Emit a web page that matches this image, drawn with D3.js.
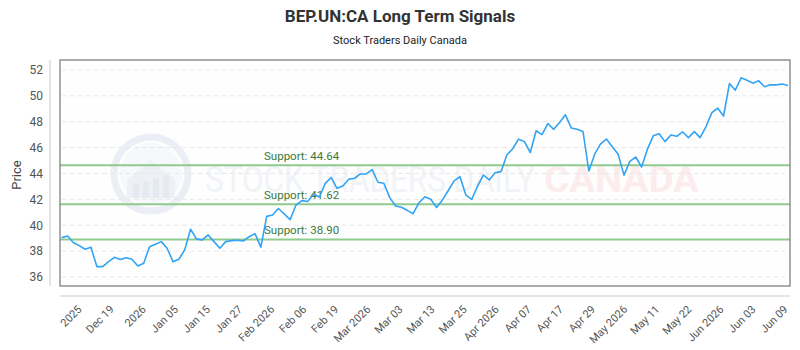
<!DOCTYPE html>
<html>
<head>
<meta charset="utf-8">
<script src="https://cdn.jsdelivr.net/npm/d3@7/dist/d3.min.js"></script>
<style>
  body { margin: 0; background: #fff; }
  svg { font-family: Roboto, "Open Sans", sans-serif; }
</style>
</head>
<body>
<svg id="chart" width="800" height="350"></svg>
<script>
// price series, one value per trading day
var prices = [
  39.04, 39.17, 38.65, 38.42, 38.14, 38.30, 36.80, 36.80, 37.18, 37.52,
  37.34, 37.49, 37.37, 36.85, 37.06, 38.34, 38.53, 38.73, 38.22, 37.18,
  37.37, 38.09, 39.69, 38.94, 38.86, 39.25, 38.73, 38.22, 38.73, 38.81,
  38.84, 38.78, 39.11, 39.35, 38.30, 40.68, 40.79, 41.29, 40.88, 40.42,
  41.56, 41.90, 41.83, 42.39, 42.18, 43.23, 43.69, 42.85, 43.03, 43.55,
  43.63, 43.96, 43.96, 44.29, 43.32, 43.24, 42.13, 41.49, 41.39, 41.15,
  40.89, 41.74, 42.20, 42.00, 41.37, 41.94, 42.68, 43.42, 43.75, 42.34,
  41.99, 43.03, 43.88, 43.50, 44.06, 44.14, 45.43, 45.91, 46.65, 46.46,
  45.62, 47.30, 47.00, 47.86, 47.41, 47.94, 48.53, 47.51, 47.42, 47.25,
  44.19, 45.49, 46.29, 46.66, 46.07, 45.48, 43.87, 44.94, 45.27, 44.50,
  45.88, 46.91, 47.07, 46.46, 46.97, 46.87, 47.22, 46.77, 47.23, 46.77,
  47.62, 48.70, 49.04, 48.44, 50.95, 50.44, 51.40, 51.21, 50.98, 51.16,
  50.70, 50.85, 50.85, 50.91, 50.80
];

var tickLabels = ["2025", "Dec 19", "2026", "Jan 05", "Jan 15", "Jan 27",
  "Feb 2026", "Feb 06", "Feb 19", "Mar 2026", "Mar 03", "Mar 13", "Mar 25",
  "Apr 2026", "Apr 07", "Apr 17", "Apr 29", "May 2026", "May 11", "May 22",
  "Jun 2026", "Jun 03", "Jun 09"];

var yTicks = [36, 38, 40, 42, 44, 46, 48, 50, 52];

var supports = [44.64, 41.62, 38.90];

var svg = d3.select("#chart");

var plotL = 60, plotR = 790, plotT = 60, plotB = 286;

var x = d3.scaleLinear()
  .domain([0, prices.length - 1])
  .range([61.7, 788]);

var y = d3.scaleLinear()
  .domain([35.3, 52.77])
  .range([plotB, plotT]);

var xTick = d3.scalePoint()
  .domain(tickLabels)
  .range([84, 790]);

// titles
svg.append("text")
  .attr("x", 400).attr("y", 22)
  .attr("text-anchor", "middle")
  .attr("font-size", 17).attr("font-weight", "bold")
  .attr("fill", "#333")
  .text("BEP.UN:CA Long Term Signals");

svg.append("text")
  .attr("x", 400).attr("y", 44)
  .attr("text-anchor", "middle")
  .attr("font-size", 11)
  .attr("fill", "#222")
  .text("Stock Traders Daily Canada");

// plot background
svg.append("rect")
  .attr("x", plotL).attr("y", plotT)
  .attr("width", plotR - plotL).attr("height", plotB - plotT)
  .attr("fill", "#fefefe");

// watermark
var wm = svg.append("g").attr("opacity", 0.42);
wm.append("circle")
  .attr("cx", 151).attr("cy", 174).attr("r", 37)
  .attr("fill", "none").attr("stroke", "#d3dae8").attr("stroke-width", 7);
wm.append("circle")
  .attr("cx", 151).attr("cy", 174).attr("r", 31)
  .attr("fill", "#eef1f7");
wm.append("path")
  .attr("d", "M127,180 L151,160 L175,180 L175,198 L127,198 Z")
  .attr("fill", "#d7deea");
wm.selectAll("rect.bar")
  .data([0, 1, 2, 3])
  .enter().append("rect")
  .attr("x", function(d) { return 133 + d * 10; })
  .attr("y", function(d) { return 184 - d * 3; })
  .attr("width", 6)
  .attr("height", function(d) { return 14 + d * 3; })
  .attr("fill", "#c4cfe0");
wm.append("text")
  .attr("x", 205).attr("y", 192)
  .attr("font-size", 36)
  .attr("textLength", 330).attr("lengthAdjust", "spacingAndGlyphs")
  .attr("fill", "#dfe5ef")
  .text("STOCK TRADERS DAILY");
wm.append("text")
  .attr("x", 544).attr("y", 192)
  .attr("font-size", 36).attr("font-weight", "bold")
  .attr("textLength", 155).attr("lengthAdjust", "spacingAndGlyphs")
  .attr("fill", "#fcd5da")
  .text("CANADA");

// grid
svg.append("g")
  .selectAll("line")
  .data(yTicks)
  .enter().append("line")
  .attr("x1", plotL + 2).attr("x2", plotR - 5)
  .attr("y1", function(d) { return y(d); })
  .attr("y2", function(d) { return y(d); })
  .attr("stroke", "#e8e8e8")
  .attr("stroke-dasharray", "5,3");

// support lines
var sup = svg.append("g");
sup.selectAll("line")
  .data(supports)
  .enter().append("line")
  .attr("x1", plotL).attr("x2", plotR)
  .attr("y1", function(d) { return y(d); })
  .attr("y2", function(d) { return y(d); })
  .attr("stroke", "#8fcb8f")
  .attr("stroke-width", 2);
sup.selectAll("text")
  .data(supports)
  .enter().append("text")
  .attr("x", 264)
  .attr("y", function(d) { return y(d) - 5; })
  .attr("font-size", 11.5)
  .attr("fill", "#3a7a3a")
  .text(function(d) { return "Support: " + d.toFixed(2); });

// price line
var line = d3.line()
  .x(function(d, i) { return x(i); })
  .y(function(d) { return y(d); });

svg.append("path")
  .datum(prices)
  .attr("d", line)
  .attr("fill", "none")
  .attr("stroke", "#33a3f4")
  .attr("stroke-width", 1.6)
  .attr("stroke-linejoin", "round");

svg.append("rect")
  .attr("x", plotL).attr("y", plotT)
  .attr("width", plotR - plotL).attr("height", plotB - plotT)
  .attr("fill", "none")
  .attr("stroke", "#808080")
  .attr("stroke-width", 1.3);

// y axis
var yAxis = d3.axisLeft(y)
  .tickValues(yTicks)
  .tickSize(0)
  .tickPadding(7);

var gy = svg.append("g")
  .attr("transform", "translate(50,0)")
  .call(yAxis);
gy.select(".domain").remove();
gy.append("line")
  .attr("x1", 0).attr("x2", 0)
  .attr("y1", plotT).attr("y2", plotB)
  .attr("stroke", "#ccc");
gy.selectAll("text")
  .attr("font-size", 12)
  .attr("font-family", "Roboto, sans-serif")
  .attr("fill", "#555");

svg.append("text")
  .attr("transform", "translate(21,175) rotate(-90)")
  .attr("text-anchor", "middle")
  .attr("font-size", 13)
  .attr("fill", "#444")
  .text("Price");

// x axis
var xAxis = d3.axisBottom(xTick).tickSize(0);
var gx = svg.append("g")
  .attr("transform", "translate(0,296)")
  .call(xAxis);
gx.select(".domain").remove();
gx.append("line")
  .attr("x1", plotL).attr("x2", plotR)
  .attr("stroke", "#ccc").attr("stroke-width", 1.2);
gx.selectAll(".tick text")
  .attr("x", 0).attr("y", 0).attr("dy", 0)
  .attr("transform", "translate(-2,14) rotate(-45)")
  .attr("text-anchor", "end")
  .attr("font-size", 11)
  .attr("font-family", "Roboto, sans-serif")
  .attr("fill", "#555");
</script>
</body>
</html>
